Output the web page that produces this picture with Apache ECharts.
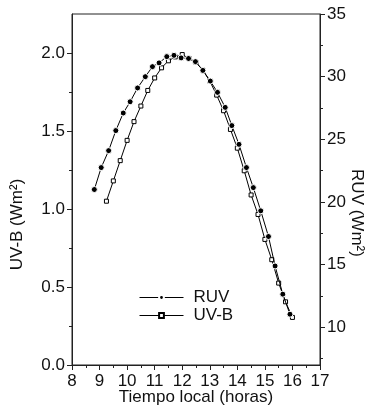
<!DOCTYPE html>
<html>
<head>
<meta charset="utf-8">
<script src="https://cdn.jsdelivr.net/npm/echarts@6/dist/echarts.min.js"></script>
<style>
html,body{margin:0;padding:0;background:#fff;}
#chart{width:370px;height:407px;}
</style>
</head>
<body>
<div id="chart"></div>
<script>
// Data
const ruvHours = [8.81, 9.06, 9.33, 9.59, 9.86, 10.11, 10.38, 10.66, 10.92, 11.16, 11.44, 11.70, 11.96, 12.23, 12.48, 12.75, 13.02, 13.28, 13.56, 13.80, 14.06, 14.33, 14.58, 14.85, 15.13, 15.37, 15.65, 15.91];
const ruvValues = [21.0, 22.75, 24.1, 25.7, 27.1, 28.0, 29.1, 30.0, 30.8, 31.1, 31.6, 31.7, 31.5, 31.45, 31.2, 30.5, 29.65, 28.75, 27.55, 26.1, 24.6, 22.75, 21.15, 19.3, 17.25, 14.9, 12.65, 11.05];
const uvbHours = [9.25, 9.5, 9.75, 10.0, 10.25, 10.5, 10.75, 11.0, 11.25, 11.5, 11.75, 12.0, 12.25, 12.5, 12.75, 13.0, 13.25, 13.5, 13.75, 14.0, 14.25, 14.5, 14.75, 15.0, 15.25, 15.5, 15.75, 16.0];
const uvbValues = [1.05, 1.18, 1.31, 1.44, 1.56, 1.66, 1.76, 1.84, 1.905, 1.95, 1.975, 1.99, 1.965, 1.94, 1.89, 1.82, 1.73, 1.63, 1.51, 1.39, 1.245, 1.09, 0.965, 0.805, 0.675, 0.525, 0.405, 0.305];

const xTicks = [8, 9, 10, 11, 12, 13, 14, 15, 16, 17];
const xMinorTicks = [8.5, 9.5, 10.5, 11.5, 12.5, 13.5, 14.5, 15.5, 16.5];
const uvbTicks = [0, 0.5, 1.0, 1.5, 2.0];
const uvbMinorTicks = [0.25, 0.75, 1.25, 1.75];
const ruvTicks = [10, 15, 20, 25, 30, 35];
const ruvMinorTicks = [7.5, 12.5, 17.5, 22.5, 27.5, 32.5];

const xRange = [8, 17];
const uvbRange = [0, 2.25];
const ruvRange = [7, 35];

const FONT = "'Liberation Sans', Arial, sans-serif";
const FS = 17;
const AX = '#222';
const TXT = '#111';

const chart = echarts.init(document.getElementById('chart'), null, {renderer: 'canvas'});

const option = {
  animation: false,
  textStyle: {fontFamily: FONT},
  grid: {left: 72, top: 14, width: 248, height: 351, show: true, borderColor: AX, borderWidth: 1,
    backgroundColor: 'transparent', containLabel: false, outerBoundsMode: 'none'},
  legend: {
    orient: 'vertical', left: 134, top: 284, padding: 5,
    itemWidth: 44, itemHeight: 6, itemGap: 1,
    lineStyle: {width: 1},
    textStyle: {fontSize: FS, color: TXT, fontFamily: FONT, padding: [0, 0, 0, 5]},
    data: ['RUV', 'UV-B']
  },
  xAxis: [
    {
      type: 'value', min: xRange[0], max: xRange[1], position: 'bottom',
      axisLine: {show: true, lineStyle: {color: AX, width: 1}},
      axisTick: {show: true, length: 5, customValues: xTicks, lineStyle: {color: AX}},
      axisLabel: {customValues: xTicks, fontSize: FS, color: TXT, margin: 8, fontFamily: FONT},
      splitLine: {show: false},
      name: 'Tiempo local (horas)', nameLocation: 'middle', nameGap: 24, nameMoveOverlap: false,
      nameTextStyle: {fontSize: FS, color: TXT, fontFamily: FONT}
    },
    {
      type: 'value', min: xRange[0], max: xRange[1], position: 'bottom',
      axisLine: {show: false},
      axisTick: {show: true, length: 3, customValues: xMinorTicks, lineStyle: {color: AX}},
      axisLabel: {show: false},
      splitLine: {show: false}
    }
  ],
  yAxis: [
    {
      type: 'value', min: uvbRange[0], max: uvbRange[1], position: 'left',
      axisLine: {show: true, lineStyle: {color: AX, width: 1}},
      axisTick: {show: true, length: 5, customValues: uvbTicks, lineStyle: {color: AX}},
      axisLabel: {customValues: uvbTicks, fontSize: FS, color: TXT, margin: 7, fontFamily: FONT,
        formatter: v => Number(v).toFixed(1)},
      splitLine: {show: false},
      name: 'UV-B (Wm²)', nameLocation: 'middle', nameGap: 46, nameRotate: 90, nameMoveOverlap: false,
      nameTextStyle: {fontSize: FS, color: TXT, fontFamily: FONT, padding: [0, 70, 0, 0]}
    },
    {
      type: 'value', min: ruvRange[0], max: ruvRange[1], position: 'right',
      axisLine: {show: true, lineStyle: {color: AX, width: 1}},
      axisTick: {show: true, length: 5, customValues: ruvTicks, lineStyle: {color: AX}},
      axisLabel: {customValues: ruvTicks, fontSize: FS, color: TXT, margin: 7, fontFamily: FONT},
      splitLine: {show: false},
      name: 'RUV (Wm²)', nameLocation: 'middle', nameGap: 28, nameRotate: -90, nameMoveOverlap: false,
      nameTextStyle: {fontSize: FS, color: TXT, fontFamily: FONT, padding: [0, 0, 0, 47]}
    },
    {
      type: 'value', min: uvbRange[0], max: uvbRange[1], position: 'left',
      axisLine: {show: false},
      axisTick: {show: true, length: 3, customValues: uvbMinorTicks, lineStyle: {color: AX}},
      axisLabel: {show: false},
      splitLine: {show: false}
    },
    {
      type: 'value', min: ruvRange[0], max: ruvRange[1], position: 'right',
      axisLine: {show: false},
      axisTick: {show: true, length: 3, customValues: ruvMinorTicks, lineStyle: {color: AX}},
      axisLabel: {show: false},
      splitLine: {show: false}
    }
  ],
  series: [
    {
      name: 'RUV', type: 'line', xAxisIndex: 0, yAxisIndex: 1,
      data: ruvHours.map((h, i) => [h, ruvValues[i]]),
      symbol: 'circle', symbolSize: 6, showSymbol: true,
      lineStyle: {color: '#000', width: 1},
      itemStyle: {color: '#000', borderColor: '#fff', borderWidth: 1},
      emphasis: {disabled: true}, z: 3
    },
    {
      name: 'UV-B', type: 'line', xAxisIndex: 0, yAxisIndex: 0,
      data: uvbHours.map((h, i) => [h, uvbValues[i]]),
      symbol: 'rect', symbolSize: 4, showSymbol: true,
      lineStyle: {color: '#000', width: 1},
      itemStyle: {color: '#fff', borderColor: '#000', borderWidth: 1},
      emphasis: {disabled: true}, z: 2
    }
  ]
};
chart.setOption(option);
</script>
</body>
</html>
